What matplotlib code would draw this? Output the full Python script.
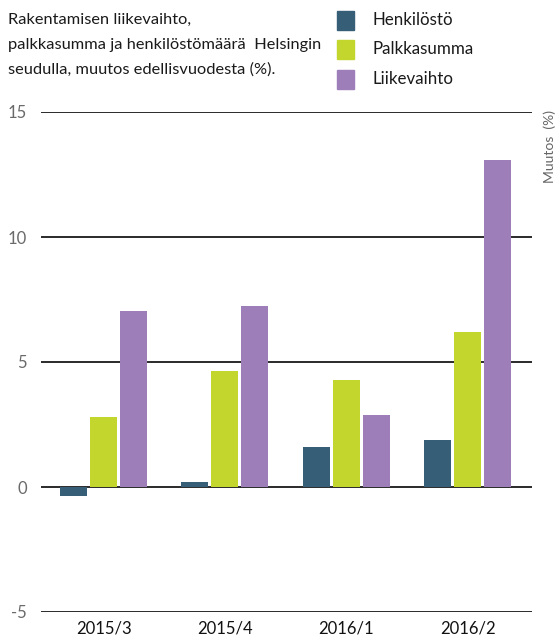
import matplotlib
matplotlib.use("Agg")
import matplotlib.pyplot as plt
from matplotlib.patches import Rectangle
import numpy as np

categories = ["2015/3", "2015/4", "2016/1", "2016/2"]
henkilosto = [-0.36, 0.2, 1.6, 1.88]
palkkasumma = [2.82, 4.64, 4.28, 6.2]
liikevaihto = [7.06, 7.24, 2.88, 13.08]
series_names = ["Henkilöstö", "Palkkasumma", "Liikevaihto"]
colors = ["#365E76", "#C2D62E", "#9D7EB8"]
yticks = [-5, 0, 5, 10, 15]
title_lines = ["Rakentamisen liikevaihto,",
               "palkkasumma ja henkilöstömäärä  Helsingin",
               "seudulla, muutos edellisvuodesta (%)."]

plt.rcParams['font.family'] = ['Lato', 'DejaVu Sans']

W, H = 559, 642
fig = plt.figure(figsize=(W / 100, H / 100), dpi=100)
ax = fig.add_axes([40.7 / W, 1 - 612 / H, (532 - 40.7) / W, (612 - 112) / H])

x = np.arange(len(categories))
width = 0.223
offset = 0.247
for i, (vals, col) in enumerate(zip([henkilosto, palkkasumma, liikevaihto], colors)):
    ax.bar(x + (i - 1) * offset, vals, width, color=col, zorder=3, label=series_names[i])

ax.set_xlim(-0.518, 3.53)
ax.set_ylim(-5, 15)
ax.set_yticks(yticks)
ax.set_yticklabels([str(t) for t in yticks], color="#6a6a6a", fontsize=12)
ax.set_xticks(x)
ax.set_xticklabels(categories, fontsize=12, color="#111111")
ax.tick_params(axis='both', length=0)
ax.tick_params(axis='y', pad=10)
ax.tick_params(axis='x', pad=6)
for t in yticks:
    ax.axhline(t, color="#2a2a2a", linewidth=1.4, zorder=2)
for s in ax.spines.values():
    s.set_visible(False)

# Title
for line, yc in zip(title_lines, [20, 45, 70]):
    fig.text(8 / W, 1 - yc / H, line, ha="left", va="center", fontsize=11.8, color="#1a1a1a")

# Legend
leg_y = [20, 49, 79]
for name, col, yc in zip(series_names, colors, leg_y):
    fig.add_artist(Rectangle((337 / W, 1 - (yc + 9.5) / H), 17 / W, 19 / H,
                             transform=fig.transFigure, color=col))
    fig.text(373 / W, 1 - yc / H, name, ha="left", va="center", fontsize=12.2, color="#1a1a1a")

# Right axis label
fig.text(550 / W, 1 - 110 / H, "Muutos  (%)", rotation=90, ha="center", va="top",
         fontsize=10, color="#666666")

fig.savefig("out.png", dpi=100)
